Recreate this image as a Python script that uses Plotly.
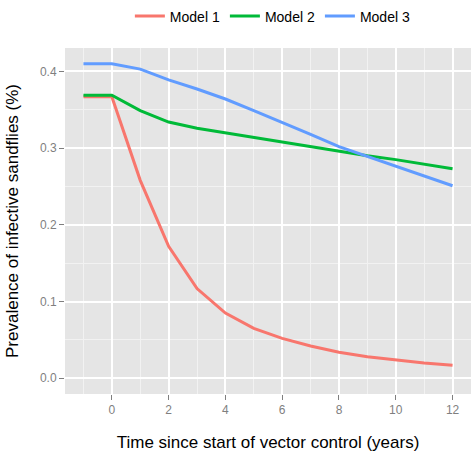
import plotly.graph_objects as go

years = [-1, 0, 1, 2, 3, 4, 5, 6, 7, 8, 9, 10, 11, 12]
model1 = [0.367, 0.367, 0.258, 0.172, 0.117, 0.085, 0.065, 0.052, 0.042, 0.034, 0.028, 0.024, 0.020, 0.017]
model2 = [0.369, 0.369, 0.349, 0.334, 0.326, 0.320, 0.314, 0.308, 0.302, 0.296, 0.290, 0.285, 0.279, 0.273]
model3 = [0.410, 0.410, 0.403, 0.389, 0.377, 0.364, 0.349, 0.334, 0.318, 0.302, 0.289, 0.276, 0.263, 0.251]
series_names = ["Model 1", "Model 2", "Model 3"]
colors = ["#F8766D", "#00BA38", "#619CFF"]
x_ticks = [0, 2, 4, 6, 8, 10, 12]
y_ticks = [0.0, 0.1, 0.2, 0.3, 0.4]

fig = go.Figure()
for name, vals, col in zip(series_names, [model1, model2, model3], colors):
    fig.add_trace(go.Scatter(x=years, y=vals, mode="lines", name=name,
                             line=dict(color=col, width=3)))

font_family = "Liberation Sans, Arial, sans-serif"
fig.update_layout(
    width=471, height=453,
    margin=dict(l=65, r=0, t=43, b=59),
    paper_bgcolor="white",
    plot_bgcolor="#E5E5E5",
    font=dict(family=font_family, color="black"),
    showlegend=True,
    legend=dict(orientation="h", x=0.512, xanchor="center", y=1.091, yanchor="middle",
                font=dict(size=14, color="black"), itemwidth=30, tracegroupgap=0,
                bgcolor="rgba(0,0,0,0)"),
    xaxis=dict(range=[-1.65, 12.65], tickvals=x_ticks, showgrid=True, gridcolor="white",
               gridwidth=1.5, zeroline=False, ticks="outside", ticklen=5, tickcolor="#7F7F7F",
               tickfont=dict(size=12, color="#7F7F7F"),
               minor=dict(tickvals=[-1, 1, 3, 5, 7, 9, 11], showgrid=True, gridcolor="#F2F2F2",
                          gridwidth=1, ticks=""),
               title=dict(text="Time since start of vector control (years)",
                          font=dict(size=17, color="black"), standoff=19)),
    yaxis=dict(range=[-0.0205, 0.4305], tickvals=y_ticks, tickformat=".1f", showgrid=True,
               gridcolor="white", gridwidth=1.5, zeroline=False, ticks="outside", ticklen=5,
               tickcolor="#7F7F7F", tickfont=dict(size=12, color="#7F7F7F"),
               minor=dict(tickvals=[0.05, 0.15, 0.25, 0.35], showgrid=True, gridcolor="#F2F2F2",
                          gridwidth=1, ticks=""),
               title=dict(text="Prevalence of infective sandflies (%)",
                          font=dict(size=17, color="black"), standoff=16)),
)

fig.write_html("out.html", config={"displayModeBar": False},
               post_script="document.body.style.margin='0';document.body.style.overflow='hidden';")
